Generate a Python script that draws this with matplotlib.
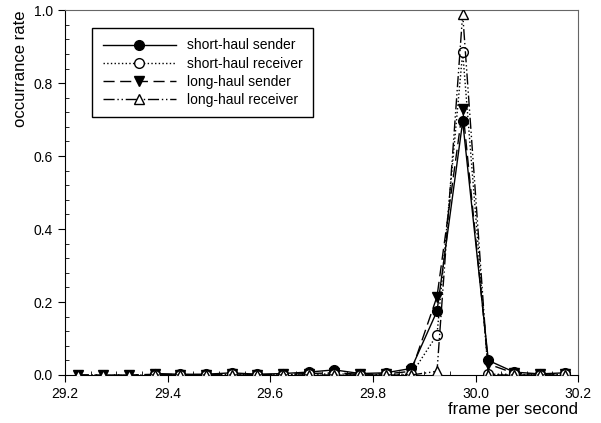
import matplotlib
matplotlib.use("Agg")
import matplotlib.pyplot as plt
from matplotlib.ticker import MultipleLocator

plt.rcParams['font.family'] = ['Liberation Sans', 'DejaVu Sans']

# frame rate bins
fps_all = [29.225, 29.275, 29.325, 29.375, 29.425, 29.475, 29.525, 29.575, 29.625, 29.675,
           29.725, 29.775, 29.825, 29.875, 29.925, 29.975, 30.025, 30.075, 30.125, 30.175]
fps_short = fps_all[3:]

short_sender = [0.004, 0.002, 0.002, 0.006, 0.002, 0.004, 0.008, 0.014, 0.004, 0.006,
                0.018, 0.175, 0.695, 0.040, 0.008, 0.003, 0.006]
short_receiver = [0.001, 0.0, 0.0, 0.002, 0.0, 0.001, 0.002, 0.003, 0.001, 0.002,
                  0.002, 0.110, 0.885, 0.002, 0.002, 0.0, 0.002]
long_sender = [0.0, 0.0, 0.0, 0.002, 0.001, 0.001, 0.004, 0.001, 0.002, 0.004, 0.006, 0.002,
               0.003, 0.010, 0.215, 0.730, 0.030, 0.005, 0.002, 0.004]
long_receiver = [0.0, 0.0, 0.0, 0.0, 0.0, 0.0, 0.0, 0.0, 0.0, 0.0, 0.0, 0.0,
                 0.0, 0.0, 0.010, 0.990, 0.0, 0.0, 0.0, 0.0]

fig = plt.figure(figsize=(6.01, 4.23), dpi=100)
ax = fig.add_axes([0.108, 0.1135, 0.854, 0.8625])

ax.plot(fps_short, short_sender, color='black', lw=1, ls='-', marker='o',
        ms=7, mfc='black', mec='black', label='short-haul sender', zorder=3)
ax.plot(fps_short, short_receiver, color='black', lw=1, ls=':', marker='o',
        ms=7, mfc='white', mec='black', label='short-haul receiver', zorder=4)
ax.plot(fps_all, long_sender, color='black', lw=1, ls=(0, (8, 4)), marker='v',
        ms=7, mfc='black', mec='black', label='long-haul sender', zorder=2)
ax.plot(fps_all, long_receiver, color='black', lw=1, ls=(0, (8, 2, 1, 2, 1, 2)), marker='^',
        ms=7, mfc='white', mec='black', label='long-haul receiver', zorder=5)

ax.set_xlim(29.2, 30.2)
ax.set_ylim(0, 1.0)
ax.xaxis.set_major_locator(MultipleLocator(0.2))
ax.xaxis.set_minor_locator(MultipleLocator(0.05))
ax.yaxis.set_major_locator(MultipleLocator(0.2))
ax.yaxis.set_minor_locator(MultipleLocator(0.04))
ax.xaxis.set_major_formatter(plt.FormatStrFormatter('%.1f'))
ax.yaxis.set_major_formatter(plt.FormatStrFormatter('%.1f'))
ax.tick_params(which='major', direction='out', length=5, labelsize=10)
ax.tick_params(which='minor', direction='in', length=3)

for s in ['top', 'right']:
    ax.spines[s].set_color('#666666')
    ax.spines[s].set_linewidth(0.8)

ax.set_xlabel('frame per second', fontsize=12, loc='right', labelpad=1)
ax.set_ylabel('occurrance rate', fontsize=12, loc='top', labelpad=4)

leg = ax.legend(loc='upper left', bbox_to_anchor=(0.053, 0.951), borderaxespad=0,
                fontsize=10, handlelength=5.3, labelspacing=0.3, borderpad=0.75,
                fancybox=False, framealpha=1, edgecolor='black')
leg.get_frame().set_linewidth(1)

fig.savefig('out.png', dpi=100)
